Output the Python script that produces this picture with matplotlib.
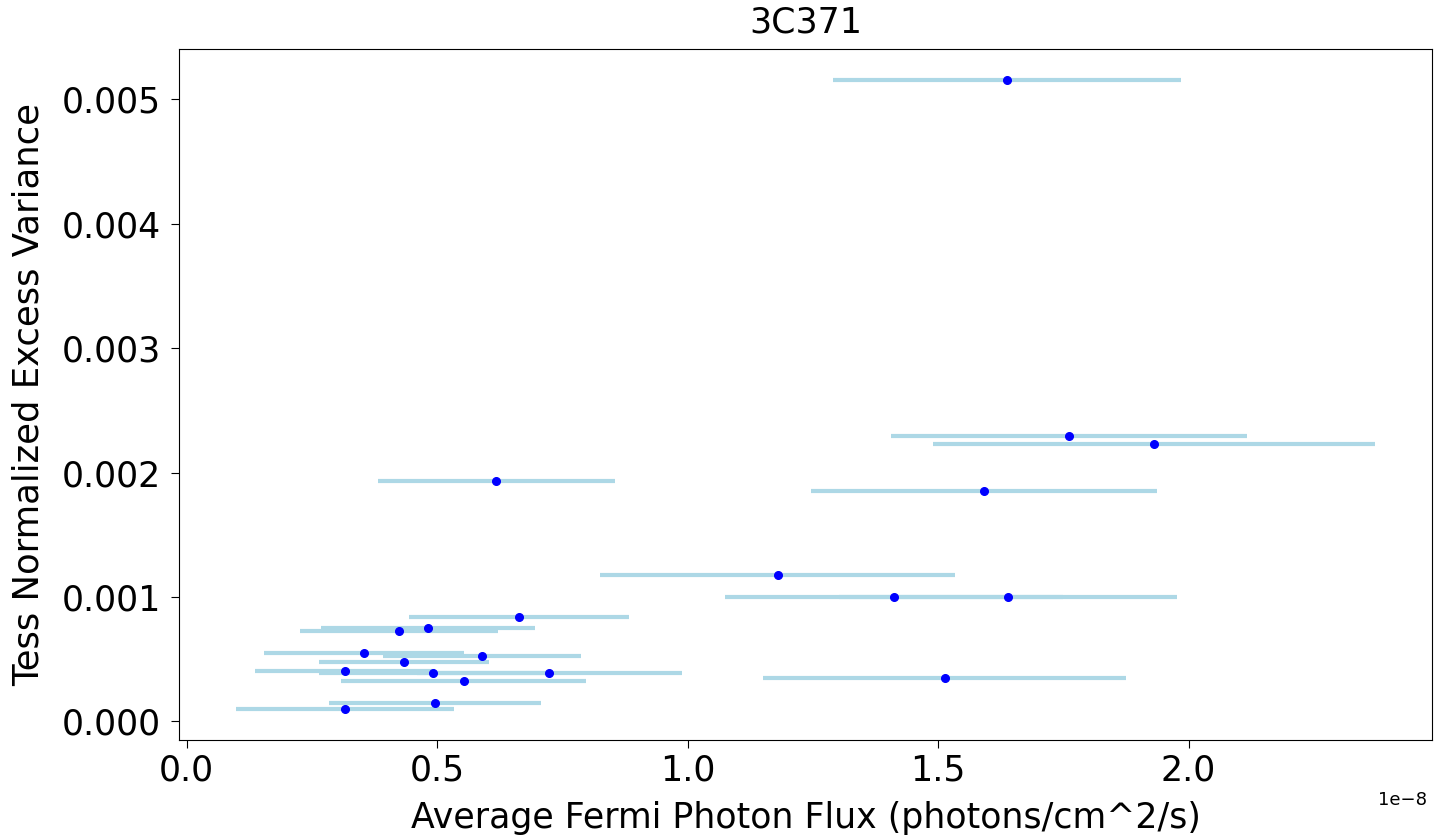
import numpy as np
import matplotlib
matplotlib.use("Agg")
import matplotlib.pyplot as plt

# average fermi flux (units of 1e-8 photons/cm^2/s), its error, and tess excess variance
flux = [1.638, 1.761, 1.931, 0.618, 1.591, 1.180, 1.412, 1.639, 1.513,
        0.663, 0.482, 0.424, 0.354, 0.589, 0.434, 0.316, 0.492, 0.724,
        0.553, 0.496, 0.316]
flux_err = [0.347, 0.356, 0.442, 0.236, 0.345, 0.354, 0.337, 0.337, 0.362,
            0.219, 0.214, 0.198, 0.200, 0.198, 0.170, 0.180, 0.228, 0.264,
            0.245, 0.211, 0.217]
nxs = [0.005151, 0.002291, 0.002233, 0.001928, 0.001855, 0.001177, 0.001002,
       0.001002, 0.000347, 0.000842, 0.000754, 0.000725, 0.000552, 0.000523,
       0.000480, 0.000407, 0.000393, 0.000393, 0.000321, 0.000145, 0.000103]
xtick_vals = [0.0, 0.5, 1.0, 1.5, 2.0]

x = np.array(flux) * 1e-8
xerr = np.array(flux_err) * 1e-8
y = np.array(nxs)

fig = plt.figure(figsize=(14.37, 8.4), dpi=100)
ax = fig.add_axes([0.1248, 0.119, 0.8720, 0.8227])

ax.errorbar(x, y, xerr=xerr, fmt='o', color='blue', ecolor='lightblue',
            elinewidth=3, markersize=5.5, capsize=0)
ax.set_xticks(np.array(xtick_vals) * 1e-8)

ax.set_title("3C371", fontsize=25, pad=12)
ax.set_xlabel("Average Fermi Photon Flux (photons/cm^2/s)", fontsize=25, labelpad=10)
ax.set_ylabel("Tess Normalized Excess Variance", fontsize=25.5, labelpad=12)
ax.tick_params(axis='both', labelsize=25, length=6)
ax.tick_params(axis='y', pad=7)
# keep the 1e-8 multiplier inside the canvas
offset = ax.xaxis.get_offset_text()
offset.set_fontsize(13)
offset.set_x(0.996)

fig.savefig("out.png", dpi=100)
